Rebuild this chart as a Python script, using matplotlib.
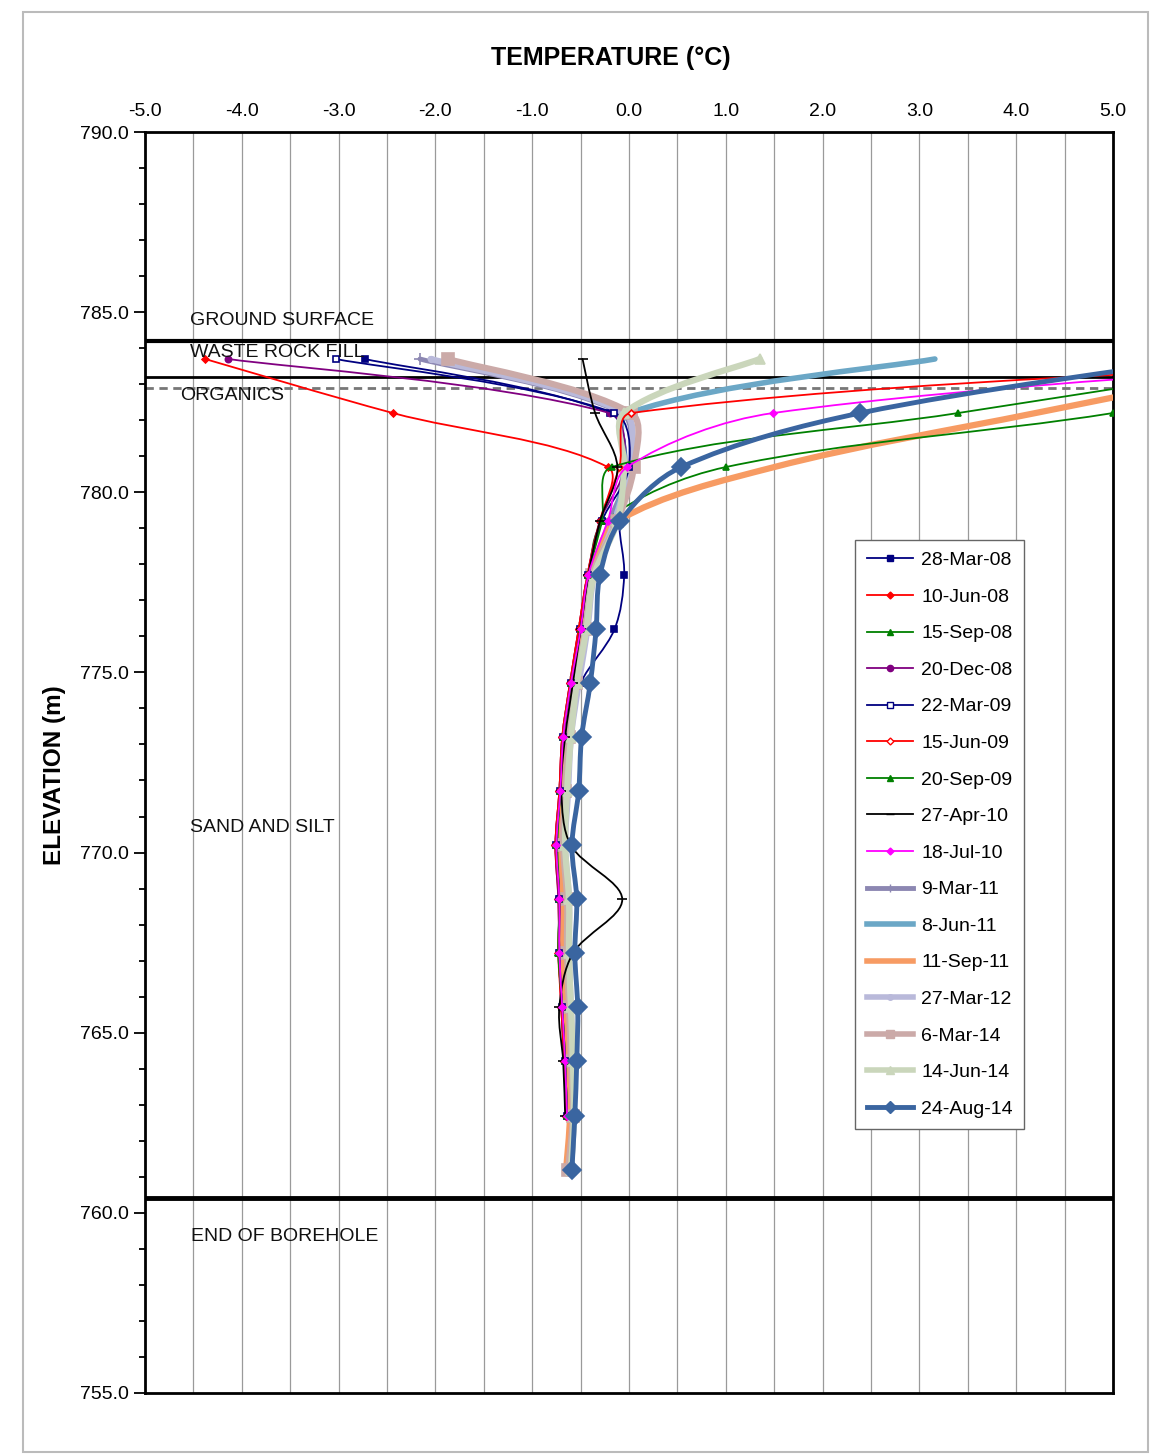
import numpy as np
import matplotlib.pyplot as plt
from matplotlib.path import Path
from matplotlib.patches import PathPatch, Rectangle
from matplotlib.lines import Line2D

plt.rcParams['font.family'] = ['Liberation Sans', 'DejaVu Sans']

# sensor elevations (m)
elev = [783.7, 782.2, 780.7, 779.2, 777.7, 776.2, 774.7, 773.2,
        771.7, 770.2, 768.7, 767.2, 765.7, 764.2, 762.7, 761.2]
nan = np.nan

# temperatures (deg C) per reading date, top sensor down
t_28mar08 = [-2.73, -0.20, -0.02, -0.10, -0.05, -0.15, -0.50, -0.64, -0.69, -0.73, -0.71, -0.71, -0.68, -0.65, -0.63, nan]
t_10jun08 = [-4.38, -2.44, -0.22, -0.30, -0.43, -0.52, -0.61, -0.69, -0.72, -0.76, -0.73, -0.72, -0.70, -0.67, -0.65, nan]
t_15sep08 = [8.00, 5.00, 1.00, -0.25, -0.42, -0.50, -0.60, -0.68, -0.71, -0.74, -0.72, -0.73, -0.69, -0.66, -0.64, nan]
t_20dec08 = [-4.14, -0.20, -0.05, -0.30, -0.43, -0.52, -0.61, -0.69, -0.72, -0.76, -0.73, -0.72, -0.70, -0.67, -0.65, nan]
t_22mar09 = [-3.03, -0.15, 0.00, -0.28, -0.42, -0.51, -0.60, -0.68, -0.71, -0.75, -0.72, -0.72, -0.69, -0.66, -0.64, nan]
t_15jun09 = [8.30, 0.02, -0.10, -0.30, -0.43, -0.52, -0.61, -0.69, -0.72, -0.76, -0.72, -0.73, -0.70, -0.67, -0.65, nan]
t_20sep09 = [7.00, 3.40, -0.18, -0.28, -0.42, -0.50, -0.60, -0.68, -0.71, -0.75, -0.72, -0.73, -0.69, -0.66, -0.64, nan]
t_27apr10 = [-0.48, -0.35, -0.12, -0.30, -0.42, -0.50, -0.58, -0.66, -0.70, -0.60, -0.07, -0.58, -0.72, -0.68, -0.66, nan]
t_18jul10 = [8.00, 1.49, -0.02, -0.22, -0.42, -0.50, -0.60, -0.68, -0.71, -0.75, -0.72, -0.72, -0.69, -0.66, -0.64, nan]
t_9mar11 = [-2.16, -0.08, 0.00, -0.20, -0.38, -0.45, -0.55, -0.62, -0.65, -0.68, -0.64, -0.64, -0.62, -0.60, -0.58, -0.62]
t_8jun11 = [3.16, 0.00, -0.05, -0.15, -0.38, -0.46, -0.56, -0.63, -0.66, -0.69, -0.65, -0.66, -0.63, -0.61, -0.59, -0.62]
t_11sep11 = [7.00, 4.20, 1.50, -0.12, -0.38, -0.47, -0.57, -0.65, -0.68, -0.72, -0.69, -0.70, -0.66, -0.63, -0.61, -0.65]
t_27mar12 = [-2.05, -0.05, 0.00, -0.15, -0.36, -0.43, -0.52, -0.60, -0.63, -0.66, -0.62, -0.62, -0.60, -0.58, -0.57, -0.60]
t_6mar14 = [-1.87, 0.02, 0.05, -0.12, -0.38, -0.45, -0.55, -0.62, -0.66, -0.68, -0.64, -0.64, -0.62, -0.60, -0.58, -0.63]
t_14jun14 = [1.35, -0.05, -0.05, -0.12, -0.36, -0.44, -0.54, -0.60, -0.64, -0.66, -0.62, -0.62, -0.60, -0.58, -0.57, -0.60]
t_24aug14 = [5.90, 2.39, 0.54, -0.09, -0.30, -0.34, -0.40, -0.49, -0.52, -0.59, -0.54, -0.56, -0.53, -0.54, -0.56, -0.59]

# label, data, color, line width, marker, marker size, marker face
series = [
    ('28-Mar-08', t_28mar08, '#000080', 1.3, 's', 5, None),
    ('10-Jun-08', t_10jun08, '#FF0000', 1.3, 'D', 3.5, None),
    ('15-Sep-08', t_15sep08, '#008000', 1.3, '^', 4.5, None),
    ('20-Dec-08', t_20dec08, '#800080', 1.3, 'o', 4.5, None),
    ('22-Mar-09', t_22mar09, '#000080', 1.3, 's', 5, 'white'),
    ('15-Jun-09', t_15jun09, '#FF0000', 1.3, 'D', 3.5, 'white'),
    ('20-Sep-09', t_20sep09, '#008000', 1.3, '^', 4.5, None),
    ('27-Apr-10', t_27apr10, '#000000', 1.3, '_', 7, None),
    ('18-Jul-10', t_18jul10, '#FF00FF', 1.3, 'D', 3.5, None),
    ('9-Mar-11', t_9mar11, '#8C87B2', 3.5, '+', 8, None),
    ('8-Jun-11', t_8jun11, '#6BA7C6', 4.0, None, 0, None),
    ('11-Sep-11', t_11sep11, '#F79B63', 4.5, None, 0, None),
    ('27-Mar-12', t_27mar12, '#B9B9DA', 4.5, 'o', 4, None),
    ('6-Mar-14', t_6mar14, '#CBAAA8', 4.5, 's', 8, None),
    ('14-Jun-14', t_14jun14, '#CAD6BB', 4.5, '^', 7, None),
    ('24-Aug-14', t_24aug14, '#3A65A0', 3.5, 'D', 9, None),
]

ground_surface = 784.2
fill_base = 783.2
organics_base = 782.9
end_of_hole = 760.4

# px per degree / px per metre, so smoothing is done in screen proportions
X_SCALE = 96.8 / 36.03


def smooth_path(x, y):
    # spreadsheet-style smoothed line: cubic Bezier through the points,
    # handle lengths weighted by neighbouring segment lengths
    pts = np.column_stack([x, y])
    pts = pts[~np.isnan(pts).any(axis=1)]
    n = len(pts)

    def seglen(a, b):
        return np.hypot((b[0] - a[0]) * X_SCALE, b[1] - a[1])

    verts = [pts[0]]
    codes = [Path.MOVETO]
    for i in range(n - 1):
        p0 = pts[max(i - 1, 0)]
        p1 = pts[i]
        p2 = pts[i + 1]
        p3 = pts[min(i + 2, n - 1)]
        d01, d12, d23 = seglen(p0, p1), seglen(p1, p2), seglen(p2, p3)
        w1 = d12 / (d01 + d12) if d01 > 0 else 0.5
        w2 = d12 / (d12 + d23) if d23 > 0 else 0.5
        c1 = p1 + (p2 - p0) * w1 / 3.0
        c2 = p2 - (p3 - p1) * w2 / 3.0
        verts += [c1, c2, p2]
        codes += [Path.CURVE4] * 3
    return Path(verts, codes)


fig = plt.figure(figsize=(11.53, 14.54), dpi=100)
ax = fig.add_axes([0.1258, 0.0420, 0.8395, 0.8672])

ax.set_xlim(-5, 5)
ax.set_ylim(755, 790)

for xg in np.arange(-4.5, 5.0, 0.5):
    ax.axvline(xg, color='#9A9A9A', lw=0.9, zorder=0)

ax.axhline(ground_surface, color='black', lw=3, zorder=1)
ax.axhline(fill_base, color='black', lw=2, zorder=1)
ax.axhline(organics_base, color='#777777', lw=2, ls=(0, (3, 2)), zorder=1)
ax.axhline(end_of_hole, color='black', lw=3.5, zorder=1)

handles = []
for i, (lab, t, col, lw, mk, ms, mfc) in enumerate(series):
    z = 3 + i * 0.1
    if lw > 3:
        z = 2 + i * 0.1
    if lab == '24-Aug-14':
        z = 5
    ax.add_patch(PathPatch(smooth_path(t, elev), facecolor='none',
                           edgecolor=col, lw=lw, zorder=z,
                           capstyle='round', joinstyle='round'))
    if mk is not None:
        ax.plot(t, elev, ls='none', marker=mk, ms=ms, color=col,
                mfc=mfc if mfc else col, mec=col, mew=1.2, zorder=z + 0.05)
    handles.append(Line2D([], [], color=col, lw=min(lw, 4), marker=mk,
                          ms=min(ms, 6), mfc=mfc if mfc else col, mec=col,
                          label=lab))

txt = dict(fontsize=14, color='#111111', va='center', ha='left', zorder=6)
ax.text(-4.535, 784.78, 'GROUND SURFACE', **txt)
ax.text(-4.535, 783.88, 'WASTE ROCK FILL', **txt)
ax.text(-4.64, 782.7, 'ORGANICS', **txt)
ax.text(-4.535, 770.7, 'SAND AND SILT', **txt)
ax.text(-4.525, 759.35, 'END OF BOREHOLE', **txt)

ax.xaxis.tick_top()
ax.set_xticks(np.arange(-5, 5.1, 1))
ax.set_xticklabels(['%.1f' % v for v in np.arange(-5, 5.1, 1)])
ax.tick_params(axis='x', direction='in', length=0, pad=9, labelsize=14)
ax.set_yticks(np.arange(755, 791, 5))
ax.set_yticklabels(['%.1f' % v for v in np.arange(755, 791, 5)])
ax.set_yticks(np.arange(755, 791, 1), minor=True)
ax.tick_params(axis='y', which='major', direction='out', length=8, width=1.3, pad=4, labelsize=14)
ax.tick_params(axis='y', which='minor', direction='out', length=4, width=1.3)
for s in ax.spines.values():
    s.set_linewidth(2)
    s.set_color('black')

leg = ax.legend(handles=handles, loc='upper left', bbox_to_anchor=(0.7335, 0.6765),
                borderaxespad=0, fontsize=14, labelspacing=0.975, handlelength=2.4,
                handletextpad=0.4, fancybox=False, framealpha=1, borderpad=0.6)
leg.get_frame().set_edgecolor('#666666')
leg.get_frame().set_linewidth(1)
leg.set_zorder(10)

fig.text(611 / 1153, 1 - 58 / 1454, 'TEMPERATURE (°C)', fontsize=18,
         fontweight='bold', ha='center', va='center')
fig.text(55 / 1153, 1 - 775 / 1454, 'ELEVATION (m)', fontsize=17.5,
         fontweight='bold', ha='center', va='center', rotation=90)

fig.patches.append(Rectangle((23 / 1153, 2 / 1454), 1125 / 1153, 1440 / 1454,
                             transform=fig.transFigure, fill=False,
                             edgecolor='#BBBBBB', lw=1.5))

fig.savefig('out.png', dpi=100)
